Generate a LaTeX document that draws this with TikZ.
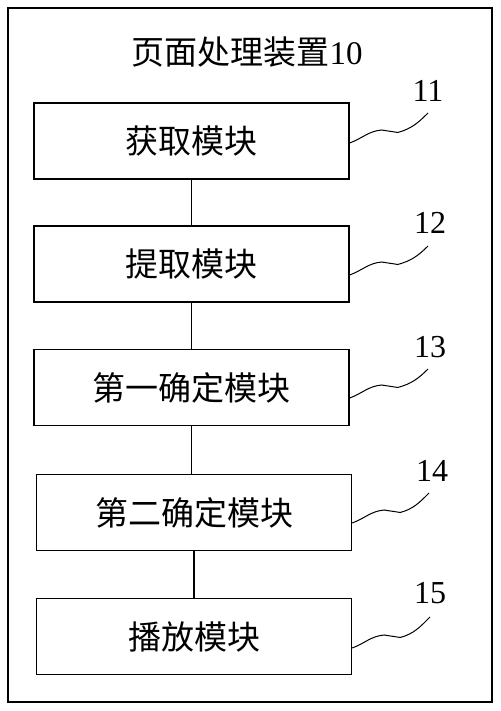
\documentclass[tikz,border=0pt]{standalone}
\usepackage{fontspec}
\setmainfont{Liberation Serif}
\newfontfamily\cjk{Noto Sans CJK SC}
\begin{document}
\begin{tikzpicture}[x=1pt,y=1pt,
  modbox/.style={draw, line width=1.4pt, minimum width=315pt, minimum height=76pt, inner sep=0pt, font=\fontsize{33}{36}\selectfont\cjk},
  lbl/.style={font=\fontsize{32}{34}\selectfont, inner sep=0pt},
  link/.style={line width=1.2pt},
  leader/.style={line width=1pt}]
\useasboundingbox (0,0) rectangle (500,711);
\draw[line width=1.4pt] (8,703) rectangle (492,9);
\node[inner sep=0pt, font=\fontsize{33}{36}\selectfont] (title) at (247,659) {{\cjk 页面处理装置}10};
\node[modbox] (b1) at (191.5,570) {获取模块};
\node[modbox] (b2) at (191.5,447) {提取模块};
\node[modbox] (b3) at (191.5,323.5) {第一确定模块};
\node[modbox] (b4) at (194,198.5) {第二确定模块};
\node[modbox] (b5) at (194,74.5) {播放模块};
\node[lbl] (l1) at (428,620) {11};
\node[lbl] (l2) at (430,488) {12};
\node[lbl] (l3) at (430,364) {13};
\node[lbl] (l4) at (432,240) {14};
\node[lbl] (l5) at (430,118) {15};
\coordinate (e1) at (428,598);
\coordinate (e2) at (428,465);
\coordinate (e3) at (428,342);
\coordinate (e4) at (429,218);
\coordinate (e5) at (430,94);
\draw[link] (b1.south) -- (b2.north);
\draw[link] (b2.south) -- (b3.north);
\draw[link] (b3.south) -- (b3.south |- b4.north);
\draw[link] (b4.south) -- (b5.north);
\foreach \i/\dy in {1/-2,2/-11,3/-10.5,4/-10.5,5/-11.5}{
  \draw[leader] ([yshift=\dy pt]b\i.east) to[out=20,in=185] ++(32,13) to[out=-10,in=170] ++(16,-2.5) to[out=15,in=225] (e\i);
}
\end{tikzpicture}
\end{document}
